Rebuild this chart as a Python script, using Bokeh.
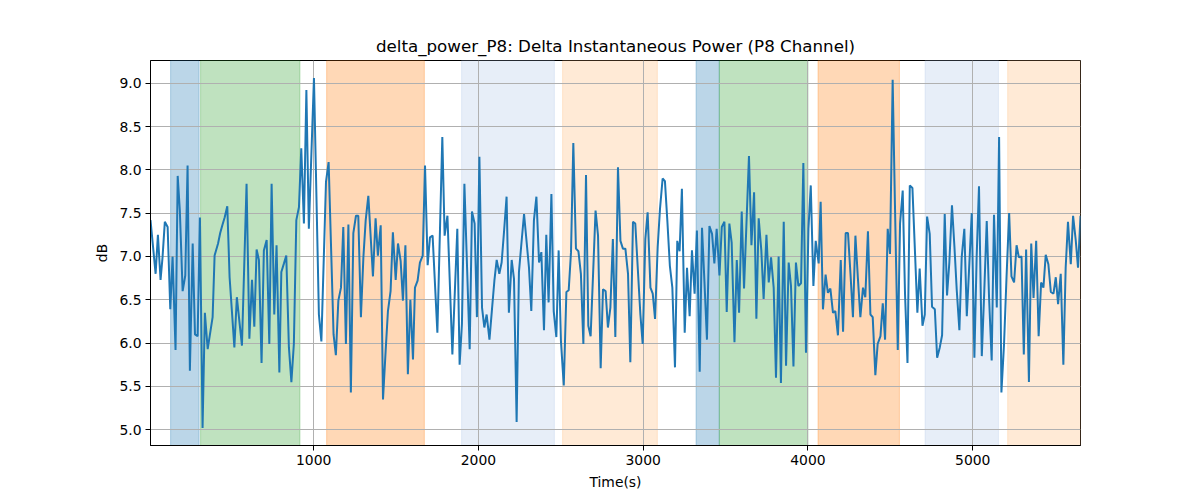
import numpy as np
from bokeh.plotting import figure
from bokeh.models import Range1d, BoxAnnotation, FixedTicker, PrintfTickFormatter
from bokeh.embed import file_html
from bokeh.resources import INLINE

# datos
t = [10, 41, 55, 71, 83, 97, 114, 130, 144, 162, 175, 188, 205, 221, 235, 249, 266, 280, 296, 310,
     326, 340, 357, 387, 399, 420, 433, 446, 460, 476, 490, 519, 534, 565, 593, 610, 626, 640, 654, 668,
     684, 698, 715, 731, 745, 761, 775, 792, 804, 820, 834, 850, 865, 880, 895, 911, 925, 941, 956, 971,
     1002, 1032, 1047, 1075, 1091, 1121, 1135, 1150, 1166, 1180, 1196, 1211, 1226, 1241, 1257, 1271, 1287, 1302, 1316, 1332,
     1360, 1376, 1390, 1407, 1421, 1437, 1451, 1467, 1481, 1498, 1512, 1528, 1542, 1557, 1572, 1587, 1603, 1615, 1631, 1645,
     1662, 1676, 1692, 1706, 1722, 1751, 1781, 1795, 1812, 1842, 1872, 1886, 1900, 1915, 1947, 1961, 1977, 1991, 2006, 2022,
     2036, 2050, 2067, 2082, 2097, 2111, 2127, 2141, 2156, 2171, 2185, 2202, 2216, 2232, 2246, 2261, 2277, 2307, 2321, 2337,
     2352, 2368, 2382, 2398, 2412, 2426, 2443, 2457, 2473, 2487, 2501, 2518, 2534, 2548, 2562, 2576, 2592, 2607, 2622, 2637,
     2653, 2667, 2681, 2696, 2711, 2726, 2742, 2756, 2772, 2786, 2801, 2816, 2831, 2847, 2862, 2877, 2892, 2908, 2922, 2938,
     2952, 2967, 2983, 2997, 3013, 3027, 3044, 3058, 3072, 3088, 3102, 3118, 3132, 3147, 3162, 3177, 3193, 3207, 3221, 3235,
     3252, 3266, 3282, 3296, 3312, 3326, 3343, 3357, 3372, 3387, 3402, 3418, 3432, 3446, 3463, 3477, 3493, 3507, 3523, 3537,
     3554, 3568, 3582, 3598, 3612, 3626, 3642, 3657, 3673, 3687, 3701, 3717, 3731, 3748, 3762, 3776, 3792, 3806, 3822, 3836,
     3853, 3867, 3883, 3897, 3912, 3927, 3942, 3958, 3972, 3988, 4003, 4017, 4033, 4047, 4065, 4077, 4091, 4107, 4121, 4136,
     4152, 4166, 4182, 4199, 4213, 4229, 4243, 4258, 4273, 4288, 4303, 4318, 4334, 4348, 4364, 4379, 4393, 4409, 4423, 4440,
     4454, 4468, 4484, 4498, 4514, 4528, 4545, 4559, 4575, 4589, 4604, 4618, 4634, 4650, 4664, 4678, 4695, 4709, 4723, 4739,
     4753, 4770, 4784, 4800, 4814, 4830, 4844, 4858, 4874, 4889, 4903, 4919, 4933, 4949, 4964, 4979, 4994, 5010, 5024, 5038,
     5055, 5070, 5085, 5099, 5115, 5129, 5146, 5160, 5174, 5190, 5205, 5221, 5235, 5251, 5266, 5280, 5296, 5310, 5324, 5341,
     5355, 5369, 5385, 5400, 5415, 5429, 5443, 5459, 5474, 5490, 5504, 5518, 5534, 5550, 5564, 5578, 5595, 5609, 5625, 5639,
     5654]

db = [7.42, 6.80, 7.25, 6.73, 6.99, 7.40, 7.34, 6.39, 7.00, 5.92, 7.93, 7.53, 6.60, 6.78, 8.05, 5.68, 7.15, 6.10, 6.08, 7.45,
      5.02, 6.35, 5.93, 6.30, 7.01, 7.15, 7.27, 7.36, 7.45, 7.58, 6.76, 5.95, 6.53, 5.97, 7.84, 6.05, 6.73, 6.19, 7.08, 6.96,
      5.77, 7.07, 7.19, 5.99, 7.84, 6.33, 7.13, 5.66, 6.82, 6.92, 7.01, 5.95, 5.55, 5.99, 7.42, 7.57, 8.25, 7.38, 8.92, 7.32,
      9.06, 6.33, 6.02, 7.86, 8.09, 6.10, 5.86, 6.49, 6.64, 7.34, 5.99, 7.37, 5.43, 7.27, 7.47, 7.47, 6.30, 6.99, 7.42, 7.70,
      6.77, 7.44, 7.01, 7.36, 5.35, 5.91, 6.37, 6.60, 7.28, 6.73, 7.15, 6.95, 6.49, 7.13, 5.64, 6.50, 5.81, 6.64, 6.72, 6.93,
      7.01, 8.05, 6.90, 7.22, 7.24, 6.12, 8.38, 7.24, 7.47, 5.87, 7.32, 5.75, 6.22, 7.84, 5.93, 7.52, 7.38, 6.30, 8.15, 6.41,
      6.18, 6.33, 6.04, 6.38, 6.72, 6.96, 6.80, 6.93, 7.30, 7.69, 6.35, 6.96, 6.74, 5.09, 6.82, 7.15, 7.49, 6.87, 6.37, 7.42,
      7.69, 6.93, 7.05, 6.15, 7.25, 6.47, 7.72, 6.37, 6.07, 7.07, 6.02, 5.51, 6.59, 6.61, 7.05, 8.31, 7.09, 7.06, 6.80, 5.99,
      7.94, 6.20, 6.08, 6.80, 7.53, 7.24, 5.71, 6.62, 6.60, 6.18, 6.41, 7.20, 6.07, 8.03, 7.18, 7.09, 7.09, 6.80, 5.78, 7.40,
      7.38, 6.87, 6.33, 5.99, 7.20, 7.51, 6.64, 6.57, 6.28, 7.11, 7.55, 7.90, 7.87, 7.40, 6.89, 6.64, 5.72, 7.18, 7.06, 7.78,
      6.12, 6.87, 6.31, 7.07, 6.57, 7.30, 5.67, 7.33, 6.70, 6.04, 7.35, 7.26, 6.92, 7.32, 6.78, 7.34, 7.40, 6.36, 7.38, 7.16,
      6.01, 6.96, 6.35, 7.52, 6.63, 7.34, 8.16, 7.13, 7.74, 6.28, 7.44, 7.07, 6.51, 7.25, 6.70, 6.99, 6.64, 5.60, 7.00, 5.54,
      7.40, 5.74, 6.93, 6.66, 5.73, 6.93, 6.66, 6.69, 8.08, 5.89, 7.32, 7.82, 6.66, 7.18, 6.92, 7.63, 6.39, 6.79, 6.58, 6.63,
      6.35, 6.37, 6.09, 6.96, 6.13, 7.27, 7.27, 6.80, 6.30, 7.24, 6.75, 6.30, 6.64, 6.53, 7.29, 6.33, 6.30, 5.63, 5.99, 6.08,
      6.46, 6.04, 7.32, 7.03, 9.04, 7.59, 5.92, 7.38, 7.76, 6.57, 5.77, 7.82, 7.79, 7.03, 6.35, 6.86, 6.20, 6.33, 7.46, 7.26,
      6.42, 6.39, 5.83, 5.95, 6.09, 7.49, 6.55, 6.93, 7.59, 7.11, 6.61, 6.15, 6.99, 7.32, 6.31, 6.90, 7.50, 5.83, 7.01, 7.81,
      5.85, 6.60, 7.41, 6.53, 5.80, 7.48, 6.41, 8.38, 5.43, 5.99, 6.76, 7.50, 6.77, 6.70, 7.13, 6.99, 7.00, 5.87, 7.08, 5.55,
      7.15, 6.52, 7.18, 6.08, 6.70, 6.64, 7.02, 6.91, 6.59, 6.57, 6.76, 6.45, 6.80, 5.75, 6.87, 7.40, 6.91, 7.47, 7.19, 6.87,
      7.47]

# bandas sombreadas (inicio, fin, color)
span_start = [132, 314, 1079, 1898, 2511, 3321, 3462, 4061, 4711, 5212]
span_end = [305, 917, 1672, 2461, 3086, 3462, 4000, 4555, 5156, 5654]
span_color = ["#1f77b4", "#2ca02c", "#ff7f0e", "#aec7e8", "#ffbb78",
              "#1f77b4", "#2ca02c", "#ff7f0e", "#aec7e8", "#ffbb78"]

y_ticks = [5.0, 5.5, 6.0, 6.5, 7.0, 7.5, 8.0, 8.5, 9.0]
x_ticks = [1000, 2000, 3000, 4000, 5000]

# margenes automaticos tipo matplotlib (5%)
ymin, ymax = min(db), max(db)
pad = 0.05 * (ymax - ymin)

p = figure(width=1200, height=500, output_backend="svg", toolbar_location=None,
           x_range=Range1d(t[0], t[-1]), y_range=Range1d(ymin - pad, ymax + pad),
           title="delta_power_P8: Delta Instantaneous Power (P8 Channel)",
           min_border_left=150, min_border_right=120, min_border_top=60, min_border_bottom=55)

for a, b, c in zip(span_start, span_end, span_color):
    p.add_layout(BoxAnnotation(left=a, right=b, fill_color=c, fill_alpha=0.3,
                               line_color=c, line_alpha=0.3, line_width=1, level="image"))

p.line(t, db, line_width=2, color="#1f77b4")

# estilo
font = "DejaVu Sans"
p.title.align = "center"
p.title.text_font = font
p.title.text_font_size = "16.7px"
p.title.text_font_style = "normal"
p.title.text_color = "black"

p.outline_line_color = "black"
p.outline_line_width = 1
p.outline_line_alpha = 1

p.xaxis.ticker = FixedTicker(ticks=x_ticks)
p.yaxis.ticker = FixedTicker(ticks=y_ticks)
p.yaxis.formatter = PrintfTickFormatter(format="%.1f")
p.xaxis.axis_label = "Time(s)"
p.yaxis.axis_label = "dB"

for ax in [p.xaxis, p.yaxis]:
    ax.axis_label_text_font = font
    ax.axis_label_text_font_size = "13.9px"
    ax.axis_label_text_font_style = "normal"
    ax.axis_label_text_color = "black"
    ax.major_label_text_font = font
    ax.major_label_text_font_size = "13.9px"
    ax.major_label_text_color = "black"
    ax.major_tick_out = 5
    ax.major_tick_in = 0
    ax.minor_tick_line_color = None
    ax.axis_line_color = "black"
    ax.major_tick_line_color = "black"
    ax.major_label_standoff = 4
    ax.axis_label_standoff = 6

p.grid.grid_line_color = "#b0b0b0"
p.grid.grid_line_width = 1

open("out.html", "w").write(file_html(p, INLINE))
